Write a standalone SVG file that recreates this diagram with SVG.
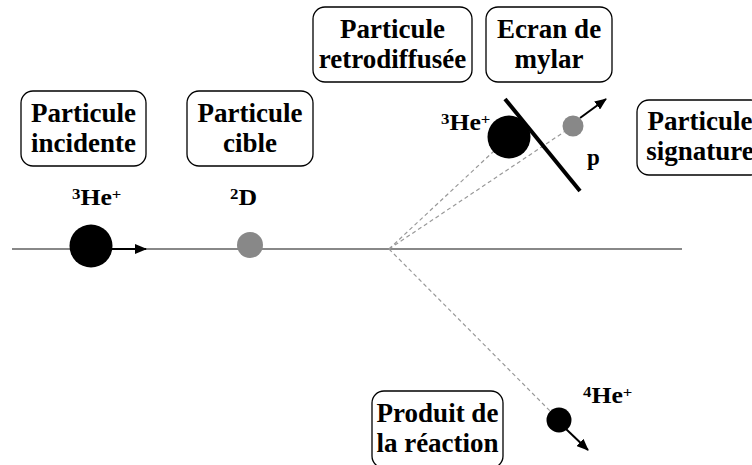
<svg xmlns="http://www.w3.org/2000/svg" width="752" height="465" viewBox="0 0 752 465">
<defs>
<marker id="ah" markerUnits="userSpaceOnUse" markerWidth="12" markerHeight="10" refX="11" refY="5" orient="auto">
<path d="M0,0 L12,5 L0,10 z" fill="#000"/>
</marker>
<style>
.box{fill:#fff;stroke:#000;stroke-width:1.3}
.bt{font-family:"Liberation Serif","Times New Roman",serif;font-weight:bold;font-size:27px;text-anchor:middle;fill:#000}
.lb{font-family:"Liberation Serif","Times New Roman",serif;font-weight:bold;font-size:23px;fill:#000}
.sup{font-size:15px}
.axis{stroke:#888;stroke-width:2.2;fill:none}
.dash{stroke:#999;stroke-width:1.2;stroke-dasharray:4,3;fill:none}
.arr{stroke:#000;stroke-width:2;fill:none;marker-end:url(#ah)}
</style>
</defs>
<rect width="752" height="465" fill="#fff"/>

<g id="connectors">
<line class="axis" x1="12" y1="249" x2="682" y2="249"/>
<line class="dash" x1="389" y1="249" x2="509" y2="137"/>
<line class="dash" x1="389" y1="249" x2="573" y2="126"/>
<line class="dash" x1="389" y1="249" x2="559" y2="420"/>
<line class="arr" x1="110" y1="249" x2="146" y2="249"/>
<line class="arr" x1="580" y1="118" x2="606" y2="99"/>
<line class="arr" x1="566" y1="429" x2="588" y2="450"/>
</g>

<g id="particule-incidente">
<rect class="box" x="21" y="91" width="125" height="75" rx="12"/>
<text class="bt" x="83.5" y="122">Particule</text>
<text class="bt" x="83.5" y="152">incidente</text>
</g>

<g id="particule-cible">
<rect class="box" x="187" y="91" width="126" height="75" rx="12"/>
<text class="bt" x="250" y="122">Particule</text>
<text class="bt" x="250" y="152">cible</text>
</g>

<g id="particule-retrodiffusee">
<rect class="box" x="313" y="7" width="159" height="75" rx="12"/>
<text class="bt" x="392.5" y="38">Particule</text>
<text class="bt" x="392.5" y="68">retrodiffusée</text>
</g>

<g id="ecran-mylar">
<rect class="box" x="486" y="7" width="126" height="75" rx="12"/>
<text class="bt" x="549" y="38">Ecran de</text>
<text class="bt" x="549" y="68">mylar</text>
</g>

<g id="particule-signature">
<rect class="box" x="637" y="100" width="126" height="75" rx="12"/>
<text class="bt" x="700" y="130">Particule</text>
<text class="bt" x="700" y="160">signature</text>
</g>

<g id="produit-reaction">
<rect class="box" x="372" y="391" width="131" height="77" rx="12"/>
<text class="bt" x="437.5" y="422">Produit de</text>
<text class="bt" x="437.5" y="452">la réaction</text>
</g>

<g id="incident-he3">
<circle cx="91" cy="246" r="21.5" fill="#000"/>
<text class="lb" transform="translate(72,205) scale(1.12,1)"><tspan class="sup" dy="-6">3</tspan><tspan dy="6">He</tspan><tspan class="sup" dy="-6">+</tspan></text>
</g>

<g id="cible-d2">
<circle cx="250" cy="245" r="13" fill="#888"/>
<text class="lb" transform="translate(230,205) scale(1.12,1)"><tspan class="sup" dy="-6">2</tspan><tspan dy="6">D</tspan></text>
</g>

<g id="retro-he3">
<circle cx="509" cy="137" r="21.5" fill="#000"/>
<text class="lb" transform="translate(441,130) scale(1.12,1)"><tspan class="sup" dy="-6">3</tspan><tspan dy="6">He</tspan><tspan class="sup" dy="-6">+</tspan></text>
</g>

<g id="mylar">
<line x1="505" y1="99" x2="580" y2="191" stroke="#000" stroke-width="4"/>
</g>

<g id="proton">
<circle cx="573" cy="126" r="10.5" fill="#888"/>
<text class="lb" x="587" y="165">p</text>
</g>

<g id="produit-he4">
<circle cx="559" cy="420" r="12.5" fill="#000"/>
<text class="lb" transform="translate(583,403) scale(1.12,1)"><tspan class="sup" dy="-6">4</tspan><tspan dy="6">He</tspan><tspan class="sup" dy="-6">+</tspan></text>
</g>
</svg>
